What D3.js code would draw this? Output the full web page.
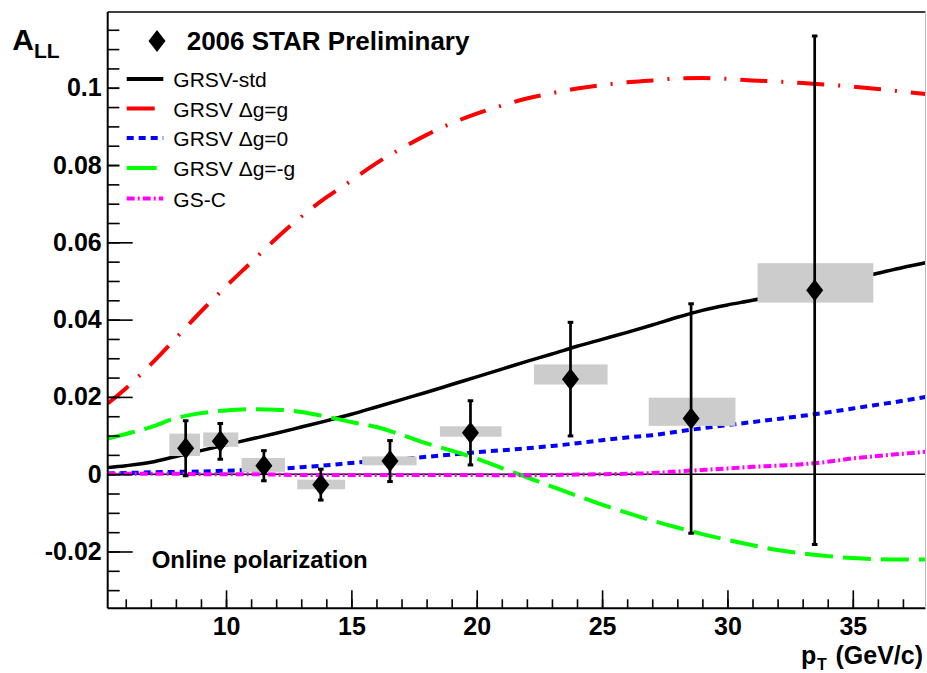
<!DOCTYPE html>
<html>
<head>
<meta charset="utf-8">
<script src="https://cdn.jsdelivr.net/npm/d3@7/dist/d3.min.js"></script>
<style>
  html, body { margin: 0; padding: 0; background: #fff; }
  svg { display: block; }
  text { font-family: "Liberation Sans", Arial, Helvetica, sans-serif; }
</style>
</head>
<body>
<svg id="chart" width="927" height="673"></svg>
<script>
// ---- Measured asymmetries (2006 STAR, inclusive jets) ----
const pT        = [8.39, 9.77, 11.51, 13.78, 16.54, 19.75, 23.74, 28.55, 33.48];
const ALL       = [0.0067, 0.0085, 0.0022, -0.0027, 0.0034, 0.0107, 0.0246, 0.0144, 0.0476];
const statErr   = [0.0071, 0.0046, 0.0039, 0.0040, 0.0053, 0.0083, 0.0147, 0.0297, 0.0658];
// systematic bands: bin edges in pT and lower/upper A_LL
const sysPtLow  = [7.74, 9.09, 10.62, 12.84, 15.43, 18.53, 22.28, 26.86, 31.20];
const sysPtHigh = [8.96, 10.49, 12.35, 14.75, 17.60, 20.99, 25.22, 30.32, 35.82];
const sysLow    = [0.0047, 0.0071, 0.0006, -0.0039, 0.0023, 0.0097, 0.0232, 0.0125, 0.0444];
const sysHigh   = [0.0105, 0.0108, 0.0042, -0.0014, 0.0046, 0.0124, 0.0284, 0.0198, 0.0546];

// ---- Theory curves on a common pT grid ----
const pTGrid = [5.28, 6, 7, 8, 9, 10, 11, 12, 13, 14, 15, 16, 17, 18, 19, 20, 21, 22,
                23, 24, 25, 26, 27, 28, 29, 30, 31, 32, 33, 34, 35, 36, 37, 37.9];
const grsvStd = [0.0017, 0.0022, 0.0031, 0.0046, 0.0061, 0.0076, 0.0091, 0.0106, 0.0122, 0.0138,
                 0.0155, 0.0174, 0.0193, 0.0212, 0.0232, 0.0252, 0.0272, 0.0292, 0.0311, 0.0331,
                 0.0349, 0.0367, 0.0386, 0.0406, 0.0424, 0.0438, 0.0450, 0.0464, 0.0477, 0.0490,
                 0.0505, 0.0520, 0.0535, 0.0547];
const grsvMax = [0.0183, 0.0222, 0.0284, 0.0352, 0.0421, 0.0486, 0.0548, 0.0610, 0.0667, 0.0716,
                 0.0760, 0.0805, 0.0843, 0.0878, 0.0908, 0.0933, 0.0954, 0.0972, 0.0986, 0.0998,
                 0.1007, 0.1014, 0.1019, 0.1024, 0.1025, 0.1023, 0.1019, 0.1016, 0.1012, 0.1008,
                 0.1003, 0.0997, 0.0990, 0.0984];
const grsvZero = [0.0002, 0.0003, 0.0005, 0.0006, 0.0007, 0.0009, 0.0011, 0.0014, 0.0018, 0.0023,
                  0.0029, 0.0034, 0.0039, 0.0045, 0.0051, 0.0057, 0.0062, 0.0067, 0.0073, 0.0080,
                  0.0088, 0.0095, 0.0101, 0.0110, 0.0119, 0.0127, 0.0135, 0.0143, 0.0151, 0.0160,
                  0.0170, 0.0180, 0.0190, 0.0200];
const grsvMin = [0.0092, 0.0104, 0.0122, 0.0145, 0.0158, 0.0165, 0.0168, 0.0167, 0.0161, 0.0149,
                 0.0135, 0.0122, 0.0102, 0.0080, 0.0061, 0.0040, 0.0016, -0.0008, -0.0032, -0.0056,
                 -0.0079, -0.0100, -0.0120, -0.0138, -0.0155, -0.0170, -0.0184, -0.0196, -0.0205, -0.0212,
                 -0.0217, -0.0220, -0.0221, -0.0221];
const gsC = [0.0001, 0.0001, 0.0001, 0.0001, 0.0000, 0.0000, 0.0000, -0.0001, -0.0002, -0.0002,
             -0.0002, -0.0002, -0.0002, -0.0002, -0.0002, -0.0002, -0.0003, -0.0003, -0.0002, -0.0001,
             0.0000, 0.0001, 0.0003, 0.0007, 0.0011, 0.0015, 0.0019, 0.0022, 0.0026, 0.0032,
             0.0041, 0.0047, 0.0053, 0.0058];

const curveNames = ["GRSV-std", "GRSV \u0394g=g", "GRSV \u0394g=0", "GRSV \u0394g=-g", "GS-C"];
const curveValues = [grsvStd, grsvMax, grsvZero, grsvMin, gsC];
const curveColors = ["#000000", "#ff0000", "#0000ff", "#00ff00", "#ff00ff"];
const curveDashes = [null, "27 14 2 14", "7 5", "28 10", "8 3 2 3"];

const xTicksMajor = [10, 15, 20, 25, 30, 35];
const yTicksMajor = [-0.02, 0, 0.02, 0.04, 0.06, 0.08, 0.1];
const yTickLabels = ["-0.02", "0", "0.02", "0.04", "0.06", "0.08", "0.1"];

// ---- Layout ----
const frame = { left: 107.7, right: 925.5, top: 12, bottom: 608.3 };
const x = d3.scaleLinear().domain([5.28, 37.9]).range([frame.left, frame.right]);
const y = d3.scaleLinear().domain([-0.0347, 0.1196]).range([frame.bottom, frame.top]);

const svg = d3.select("#chart");
svg.append("defs").append("clipPath").attr("id", "plotClip")
  .append("rect").attr("x", frame.left).attr("y", frame.top)
  .attr("width", frame.right - frame.left).attr("height", frame.bottom - frame.top);

const plot = svg.append("g").attr("clip-path", "url(#plotClip)");

// zero line
plot.append("line")
  .attr("x1", frame.left).attr("x2", frame.right)
  .attr("y1", y(0)).attr("y2", y(0))
  .attr("stroke", "#000").attr("stroke-width", 1.5);

// theory curves
const line = d3.line().x(d => x(d[0])).y(d => y(d[1])).curve(d3.curveMonotoneX);
curveValues.forEach((vals, i) => {
  plot.append("path")
    .datum(pTGrid.map((p, k) => [p, vals[k]]))
    .attr("d", line)
    .attr("fill", "none")
    .attr("stroke", curveColors[i])
    .attr("stroke-width", i === 0 ? 3.5 : 4)
    .attr("stroke-dasharray", curveDashes[i]);
});

// systematic boxes
plot.selectAll("rect.sys").data(pT).enter().append("rect")
  .attr("class", "sys")
  .attr("x", (d, i) => x(sysPtLow[i]))
  .attr("width", (d, i) => x(sysPtHigh[i]) - x(sysPtLow[i]))
  .attr("y", (d, i) => y(sysHigh[i]))
  .attr("height", (d, i) => y(sysLow[i]) - y(sysHigh[i]))
  .attr("fill", "#cccccc");

// statistical error bars with end caps
const bars = plot.selectAll("g.err").data(pT).enter().append("g").attr("class", "err");
bars.append("line")
  .attr("x1", d => x(d)).attr("x2", d => x(d))
  .attr("y1", (d, i) => y(ALL[i] + statErr[i]))
  .attr("y2", (d, i) => y(ALL[i] - statErr[i]))
  .attr("stroke", "#000").attr("stroke-width", 2.7);
[1, -1].forEach(s => {
  bars.append("line")
    .attr("x1", d => x(d) - 2.8).attr("x2", d => x(d) + 2.8)
    .attr("y1", (d, i) => y(ALL[i] + s * statErr[i]))
    .attr("y2", (d, i) => y(ALL[i] + s * statErr[i]))
    .attr("stroke", "#000").attr("stroke-width", 3);
});

// diamond markers
const diamond = (cx, cy) => `M${cx},${cy - 11}L${cx + 8.5},${cy}L${cx},${cy + 11}L${cx - 8.5},${cy}Z`;
plot.selectAll("path.mk").data(pT).enter().append("path")
  .attr("class", "mk")
  .attr("d", (d, i) => diamond(x(d), y(ALL[i])))
  .attr("fill", "#000");

// ---- Axes (ticks point inward) ----
const axes = svg.append("g");
const yAxisMinor = d3.axisLeft(y).tickValues(d3.range(-0.03, 0.1151, 0.005))
  .tickSize(-12).tickFormat("");
axes.append("g").attr("transform", `translate(${frame.left},0)`).call(yAxisMinor);
const yAxisMajor = d3.axisLeft(y).tickValues(yTicksMajor).tickSize(-25).tickPadding(6)
  .tickFormat((d, i) => yTickLabels[i]);
axes.append("g").attr("class", "yMajor").attr("transform", `translate(${frame.left},0)`).call(yAxisMajor);

const xAxisMinor = d3.axisBottom(x).tickValues(d3.range(6, 38, 1)).tickSize(-9).tickFormat("");
axes.append("g").attr("transform", `translate(0,${frame.bottom})`).call(xAxisMinor);
const xAxisMajor = d3.axisBottom(x).tickValues(xTicksMajor).tickSize(-18).tickPadding(9)
  .tickFormat(d3.format("d"));
axes.append("g").attr("class", "xMajor").attr("transform", `translate(0,${frame.bottom})`).call(xAxisMajor);

axes.selectAll(".domain").remove();
axes.selectAll(".tick line").attr("stroke", "#000").attr("stroke-width", 1.6);
axes.selectAll(".yMajor text, .xMajor text")
  .attr("font-size", 25).attr("font-weight", "bold").attr("fill", "#000")
  .style("font-family", "'Liberation Sans', Arial, sans-serif");

// legend background (hides tick ends beneath it)
svg.append("rect").attr("x", 119.5).attr("y", 15).attr("width", 362).attr("height", 44).attr("fill", "#fff");
svg.append("rect").attr("x", 119.5).attr("y", 59).attr("width", 182).attr("height", 156).attr("fill", "#fff");

// frame
svg.append("line").attr("x1", frame.left).attr("x2", frame.right).attr("y1", frame.top).attr("y2", frame.top)
  .attr("stroke", "#000").attr("stroke-width", 1.6);
svg.append("line").attr("x1", frame.left).attr("x2", frame.left).attr("y1", frame.top).attr("y2", frame.bottom)
  .attr("stroke", "#000").attr("stroke-width", 2);
svg.append("line").attr("x1", frame.left).attr("x2", frame.right).attr("y1", frame.bottom).attr("y2", frame.bottom)
  .attr("stroke", "#000").attr("stroke-width", 2);
svg.append("line").attr("x1", frame.right).attr("x2", frame.right).attr("y1", frame.top).attr("y2", frame.bottom)
  .attr("stroke", "#bbb").attr("stroke-width", 1);

// ---- Legend ----
svg.append("path").attr("d", diamond(157, 41)).attr("fill", "#000");
svg.append("text").attr("x", 186.7).attr("y", 50)
  .attr("font-size", 26).attr("font-weight", "bold").text("2006 STAR Preliminary");

const legendY = [79, 108.5, 138, 168, 198.5];
curveNames.forEach((name, i) => {
  svg.append("line")
    .attr("x1", 126.7).attr("x2", 163.3)
    .attr("y1", legendY[i]).attr("y2", legendY[i])
    .attr("stroke", curveColors[i])
    .attr("stroke-width", 4)
    .attr("stroke-dasharray", i === 1 ? "28 40" : (i === 3 ? "30 20" : curveDashes[i]));
  svg.append("text").attr("x", 173.3).attr("y", legendY[i] + 8)
    .attr("font-size", 21).attr("fill", "#000").text(name);
});

svg.append("text").attr("x", 151.7).attr("y", 568.3)
  .attr("font-size", 24).attr("font-weight", "bold").text("Online polarization");

// ---- Axis titles ----
svg.append("text").attr("x", 12.3).attr("y", 50).attr("font-size", 30).attr("font-weight", "bold").text("A");
svg.append("text").attr("x", 34).attr("y", 58).attr("font-size", 21).attr("font-weight", "bold").text("LL");

svg.append("text").attr("x", 801).attr("y", 664).attr("font-size", 25).attr("font-weight", "bold").text("p");
svg.append("text").attr("x", 817).attr("y", 670).attr("font-size", 16).attr("font-weight", "bold").text("T");
svg.append("text").attr("x", 923).attr("y", 664).attr("text-anchor", "end")
  .attr("font-size", 25).attr("font-weight", "bold").text("(GeV/c)");
</script>
</body>
</html>
